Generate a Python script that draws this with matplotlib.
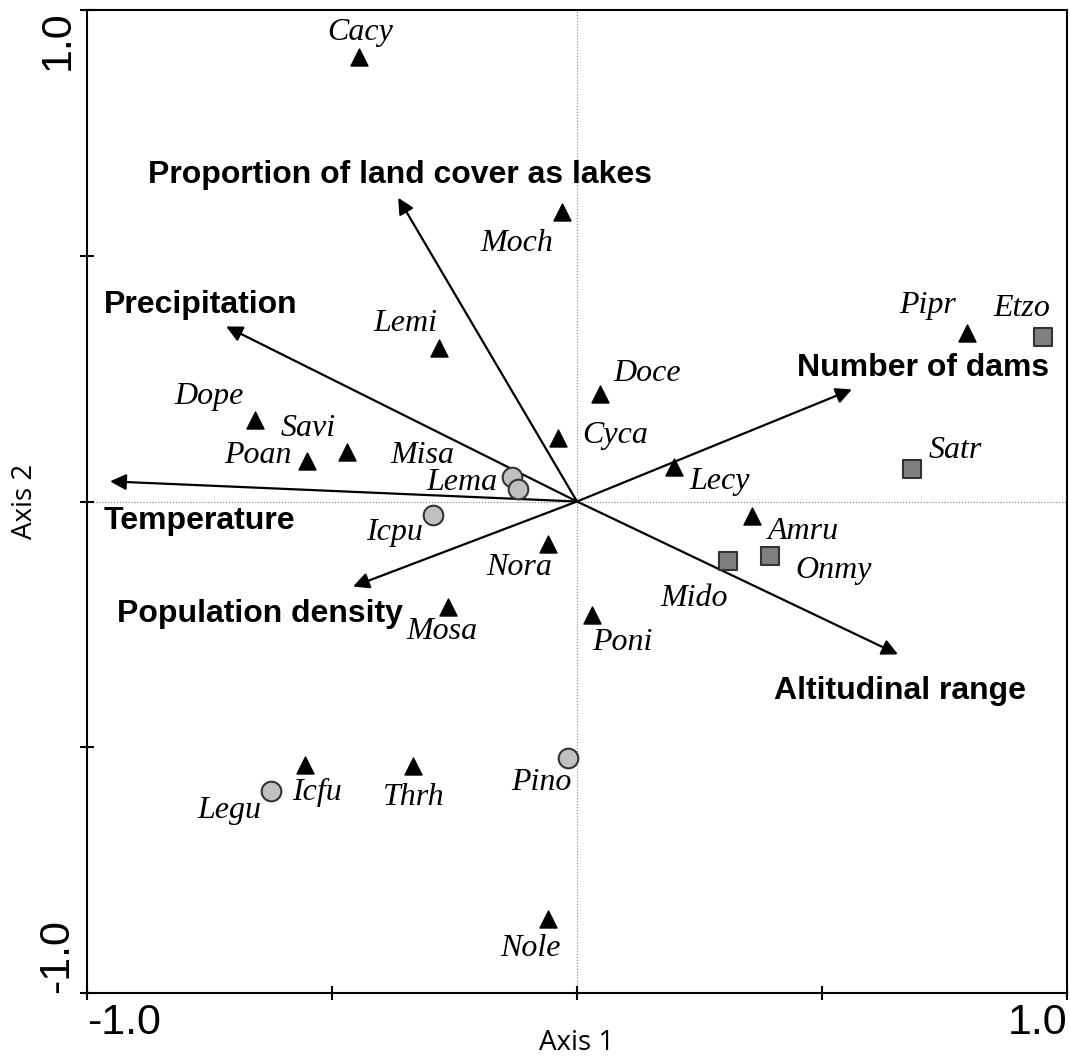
import matplotlib.pyplot as plt

# species scores (axis 1, axis 2)
tri_names = ['Cacy', 'Moch', 'Lemi', 'Doce', 'Dope', 'Savi', 'Poan', 'Cyca', 'Lecy',
             'Amru', 'Nora', 'Mosa', 'Poni', 'Icfu', 'Thrh', 'Nole', 'Pipr']
tri_x = [-0.445, -0.031, -0.282, 0.047, -0.657, -0.469, -0.551, -0.039, 0.198,
         0.357, -0.059, -0.263, 0.031, -0.555, -0.335, -0.059, 0.796]
tri_y = [0.905, 0.588, 0.313, 0.218, 0.165, 0.100, 0.083, 0.130, 0.071,
         -0.030, -0.087, -0.214, -0.230, -0.537, -0.539, -0.850, 0.342]

circ_names = ['Misa', 'Lema', 'Icpu', 'Pino', 'Legu']
circ_x = [-0.133, -0.120, -0.294, -0.018, -0.624]
circ_y = [0.049, 0.026, -0.028, -0.521, -0.588]

sq_names = ['Etzo', 'Satr', 'Onmy', 'Mido']
sq_x = [0.951, 0.684, 0.394, 0.308]
sq_y = [0.334, 0.067, -0.110, -0.122]

# environmental vectors
env_names = ['Proportion of land cover as lakes', 'Precipitation', 'Temperature',
             'Population density', 'Number of dams', 'Altitudinal range']
env_x = [-0.365, -0.716, -0.953, -0.457, 0.561, 0.655]
env_y = [0.618, 0.356, 0.041, -0.173, 0.228, -0.311]

# label offsets in pixels (layout only)
tri_off = [(1, 24), (-45, -31), (-33, 24), (47, 21), (-46, 24), (-39, 24), (-49, 5),
           (57, 2), (46, -15), (51, -15), (-29, -23), (-6, -25), (30, -28), (12, -27),
           (1, -31), (-18, -29), (-39, 28)]
circ_off = [(-89, 22), (-56, 6), (-38, -17), (-27, -25), (-42, -20)]
sq_off = [(-21, 29), (43, 18), (64, -15), (-34, -37)]
env_off = [(2, 23), (-25, 22), (89, -40), (-93, -27), (71, 21), (2, -37)]

fig = plt.figure(figsize=(10.7, 10.57), dpi=100)
ax = fig.add_axes([87 / 1070, 1 - 993 / 1057, 980 / 1070, 983 / 1057])
ax.set_xlim(-1, 1)
ax.set_ylim(-1, 1)

ax.axhline(0, color='grey', lw=0.8, ls=':', zorder=0)
ax.axvline(0, color='grey', lw=0.8, ls=':', zorder=0)

for x, y in zip(env_x, env_y):
    ax.annotate('', xy=(x, y), xytext=(0, 0),
                arrowprops=dict(arrowstyle='-|>', color='black', lw=1.6,
                                mutation_scale=24, shrinkA=0, shrinkB=0))
for name, x, y, off in zip(env_names, env_x, env_y, env_off):
    ax.annotate(name, (x, y), xytext=off, textcoords='offset pixels',
                ha='center', va='center', fontsize=23, fontweight='bold',
                family='Liberation Sans')

ax.scatter(tri_x, tri_y, marker='^', s=150, color='black', zorder=3)
ax.scatter(circ_x, circ_y, marker='o', s=200, color='#c0c0c0',
           edgecolors='#333333', linewidths=1.5, zorder=3)
ax.scatter(sq_x, sq_y, marker='s', s=165, color='#808080',
           edgecolors='#333333', linewidths=1.5, zorder=3)

for names, xs, ys, offs in [(tri_names, tri_x, tri_y, tri_off),
                            (circ_names, circ_x, circ_y, circ_off),
                            (sq_names, sq_x, sq_y, sq_off)]:
    for name, x, y, off in zip(names, xs, ys, offs):
        ax.annotate(name, (x, y), xytext=off, textcoords='offset pixels',
                    ha='center', va='center', fontsize=23, style='italic',
                    family='Liberation Serif')

ax.set_xticks([-1, -0.5, 0, 0.5, 1])
ax.set_xticklabels(['-1.0', '', '', '', '1.0'], fontsize=31, family='Liberation Sans')
ax.set_yticks([-1, -0.5, 0, 0.5, 1])
ax.set_yticklabels(['-1.0', '', '', '', '1.0'], fontsize=31, family='Liberation Sans',
                   rotation=90)
xl = ax.get_xticklabels()
xl[0].set_ha('left')
xl[-1].set_ha('right')
yl = ax.get_yticklabels()
yl[0].set_va('bottom')
yl[-1].set_va('top')
ax.tick_params(direction='inout', length=10, width=1.5, pad=2)
for s in ax.spines.values():
    s.set_linewidth(1.5)

ax.set_xlabel('Axis 1', fontsize=20, family='Open Sans', va='center')
ax.xaxis.set_label_coords(0.5, -0.051)
ax.set_ylabel('Axis 2', fontsize=20, family='Open Sans', va='center')
ax.yaxis.set_label_coords(-0.063, 0.5)

fig.savefig('out.png', dpi=100)
